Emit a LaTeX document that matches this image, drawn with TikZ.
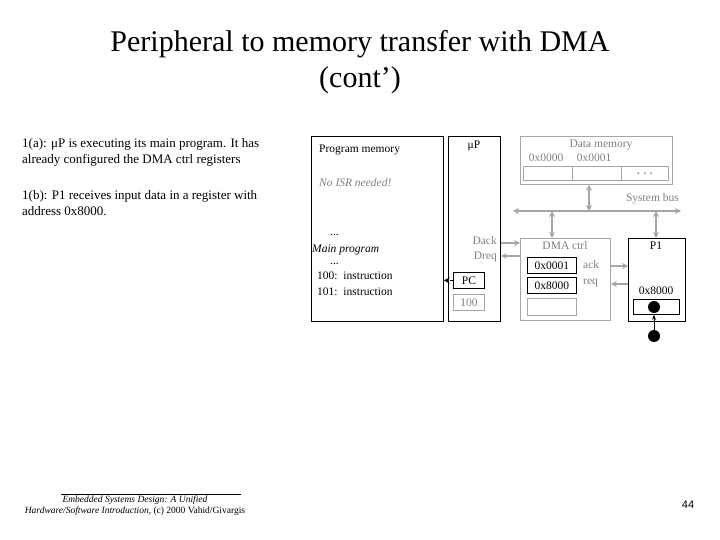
\documentclass[tikz,border=0pt]{standalone}
\usepackage{fontspec}
\setmainfont{Liberation Serif}
\newfontfamily\sansf{Liberation Sans}
\usetikzlibrary{arrows.meta}
\begin{document}
\begin{tikzpicture}[x=1pt,y=-1pt,
  box/.style={draw,line width=0.8pt,inner sep=0},
  gbox/.style={draw=gray!70,line width=0.8pt,inner sep=0},
  garr/.style={draw=gray!70,line width=1.5pt,-{Stealth[length=6pt,width=6pt]}},
  gbi/.style={draw=gray!70,line width=1.5pt,{Stealth[length=6pt,width=6pt]}-{Stealth[length=6pt,width=6pt]}},
  t/.style={font=\fontsize{11.5}{12}\selectfont,inner sep=0},
  gt/.style={t,text=gray}]
\useasboundingbox (0,0) rectangle (720,540);
\node[font=\fontsize{30}{36}\selectfont,align=center] (title) at (360,62) {Peripheral to memory transfer with DMA\\(cont’)};
\node[font=\fontsize{13}{16}\selectfont,align=left,anchor=north west,inner sep=0] (s1) at (22,138) {1(a): μP is executing its main program. It has\\already configured the DMA ctrl registers};
\node[font=\fontsize{13}{16}\selectfont,align=left,anchor=north west,inner sep=0] (s2) at (22,190) {1(b): P1 receives input data in a register with\\address 0x8000.};
% program memory
\node[box,minimum width=132,minimum height=185,anchor=north west] (pm) at (311,136) {};
\node[t,anchor=west] (pmt) at (319,150) {Program memory};
\node[gt,anchor=west,font=\fontsize{11.5}{12}\itshape] (isr) at (319,183) {No ISR needed!};
\node[t,anchor=west] (d1) at (330,235) {...};
\node[t,anchor=west,font=\fontsize{11.5}{12}\itshape] (mp) at (312,250) {Main program};
\node[t,anchor=west] (d2) at (330,264) {...};
\node[t,anchor=west] (i1) at (317,276) {100:\ \ instruction};
\node[t,anchor=west] (i2) at (317,292) {101:\ \ instruction};
% uP
\node[box,minimum width=52,minimum height=185,anchor=north west] (up) at (448,136) {};
\node[t] (upt) at (474,146) {μP};
\node[gt,anchor=east] (dack) at (497,241) {Dack};
\node[gt,anchor=east] (dreq) at (497,257) {Dreq};
\node[box,minimum width=31,minimum height=16,anchor=north west,t] (pc) at (453,272) {};
\node[t] at (pc) {PC};
\node[gbox,minimum width=31,minimum height=16,anchor=north west] (hb) at (453,294) {};
\node[gt] at (hb) {100};
\draw[line width=1.2pt,-{Stealth[length=6pt,width=6pt]},dashed] (pc.west) -- (pm.east|-pc.west);
% data memory
\node[gbox,minimum width=152,minimum height=48,anchor=north west] (dm) at (520,136) {};
\node[gt] (dmt) at (601,145) {Data memory};
\node[gt] (a0) at (546,158) {0x0000};
\node[gt] (a1) at (594,158) {0x0001};
\node[gbox,minimum width=49,minimum height=14,anchor=north west] (c0) at (523,166) {};
\node[gbox,minimum width=49,minimum height=14,anchor=north west] (c1) at (572,166) {};
\node[gbox,minimum width=47,minimum height=14,anchor=north west] (c2) at (621,166) {};
\node[gt,font=\fontsize{11}{10}\bfseries] at (c2) {.\,\,.\,\,.};
% bus
\coordinate (bl) at (513,211);
\coordinate (br) at (681,211);
\draw[gbi] (bl) -- (br);
\node[gt,anchor=east] (sb) at (679,199) {System bus};
\draw[gbi] (dm.south-|589,0) -- (589,211);
% DMA ctrl
\node[gbox,minimum width=90,minimum height=82,anchor=north west] (dma) at (520,238) {};
\node[gt] (dmat) at (565,246) {DMA ctrl};
\node[box,minimum width=49,minimum height=16,anchor=north west] (r1) at (527,257) {};
\node[t] at (r1) {0x0001};
\node[box,minimum width=49,minimum height=16,anchor=north west] (r2) at (527,277) {};
\node[t] at (r2) {0x8000};
\node[gbox,minimum width=49,minimum height=17,anchor=north west] (r3) at (527,298) {};
\node[gt,anchor=west] (ack) at (583,265) {ack};
\node[gt,anchor=west] (req) at (583,283) {req};
\draw[gbi] (552,211) -- (dma.north-|552,0);
\draw[garr,line width=1.2pt] (up.east|-0,243) -- (dma.west|-0,243);
\draw[garr,line width=1.2pt] (dma.west|-0,256) -- (up.east|-0,256);
% P1
\node[box,minimum width=57,minimum height=83,anchor=north west] (p1) at (628,238) {};
\node[t] (p1t) at (656,246) {P1};
\node[t] (p1a) at (656,291) {0x8000};
\node[box,minimum width=46,minimum height=15,anchor=north west] (p1r) at (633,299) {};
\draw[gbi] (656,211) -- (p1.north-|656,0);
\draw[garr,line width=1.2pt] (dma.east|-0,266) -- (p1.west|-0,266);
\draw[garr,line width=1.2pt] (p1.west|-0,284) -- (dma.east|-0,284);
\node[circle,fill,minimum size=12,inner sep=0] (dot1) at (654,307) {};
\node[circle,fill,minimum size=12,inner sep=0] (dot2) at (654,336) {};
\draw[line width=1pt,-{Stealth[length=5pt,width=4pt]}] (dot2) -- (p1r.south-|654,0);
% footer
\node[font=\fontsize{9.5}{11}\itshape,align=center] (ft) at (135,506) {Embedded Systems Design: A Unified\\Hardware/Software Introduction, {\upshape(c) 2000 Vahid/Givargis}};
\draw[line width=0.5pt] (ft.north west)++(40,2) -- ++(180,0);
\node[font=\sansf\fontsize{11}{12}\selectfont] (pg) at (688,505) {44};
\end{tikzpicture}
\end{document}
